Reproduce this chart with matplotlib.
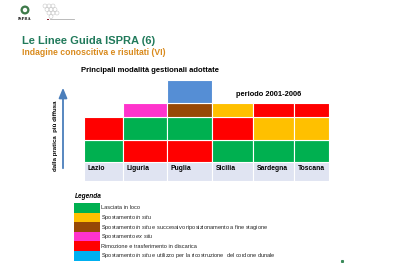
import numpy as np
import matplotlib
matplotlib.use("Agg")
import matplotlib.pyplot as plt
import matplotlib.patches as patches

plt.rcParams["font.family"] = ["Liberation Sans", "DejaVu Sans"]
plt.rcParams["mathtext.fontset"] = "custom"
plt.rcParams["mathtext.rm"] = "Liberation Sans"
plt.rcParams["mathtext.it"] = "Liberation Sans:italic"

# data
regions = ["Lazio", "Liguria", "Puglia", "Sicilia", "Sardegna", "Toscana"]
# practices per region, from the most widespread (bottom) upwards
practices = [
    ["loco", "discarica"],
    ["discarica", "loco", "ex_situ"],
    ["discarica", "loco", "riposiz", "dunale"],
    ["loco", "discarica", "in_situ"],
    ["loco", "in_situ", "discarica"],
    ["loco", "in_situ", "discarica"],
]
legend_codes = ["loco", "in_situ", "riposiz", "ex_situ", "discarica", "dunale"]
legend_labels = [
    "Lasciata in loco",
    "Spostamento $\\it{in\\ situ}$",
    "Spostamento $\\it{in\\ situ}$ e successivo riposizionamento a fine stagione",
    "Spostamento $\\it{ex\\ situ}$",
    "Rimozione e trasferimento in discarica",
    "Spostamento $\\it{in\\ situ}$ e utilizzo per la ricostruzione  del cordone dunale",
]

# styles
cell_colors = {
    "loco": "#00B050",
    "in_situ": "#FFC000",
    "riposiz": "#974806",
    "ex_situ": "#FF33CC",
    "discarica": "#FF0000",
    "dunale": "#558ED5",
}
legend_colors = dict(cell_colors, dunale="#00B0F0")
col_w = [39, 44, 45, 41, 41, 35]      # pixel widths of the columns
level_h = [22, 23, 14, 23]            # pixel heights of the stacked levels
label_h = 19
W, H = 400, 263

fig = plt.figure(figsize=(4.0, 2.63), dpi=100)
bg = fig.add_axes((0, 0, 1, 1))
bg.set_xlim(0, W)
bg.set_ylim(H, 0)
bg.axis("off")

# logos (rough)
bg.add_patch(patches.Circle((25, 10), 4.5, facecolor="#3E7A4A", edgecolor="none"))
bg.add_patch(patches.Circle((25, 10), 2.2, facecolor="white", edgecolor="none"))
bg.text(25, 18.5, "ISPRA", fontsize=2.8, fontweight="bold", family="DejaVu Serif",
        ha="center", va="center", color="#222222")
for cx, cy in [(45, 6), (49, 6), (53, 6), (47, 9.5), (51, 9.5), (55, 9.5),
               (49, 13), (53, 13), (57, 13), (51, 16.5)]:
    bg.add_patch(patches.Circle((cx, cy), 2, facecolor="none",
                                edgecolor="#C8C8C8", linewidth=0.4))
bg.add_patch(patches.Rectangle((47, 18.5), 2, 1.5, facecolor="#8B1A2B"))
bg.plot([50, 74], [19.3, 19.3], color="#B0B0B0", linewidth=0.6)

# titles
bg.text(22, 41, "Le Linee Guida ISPRA (6)", fontsize=8.0, fontweight="bold",
        color="#217A5B", va="center")
bg.text(22, 52.5, "Indagine conoscitiva e risultati (VI)", fontsize=6.2,
        fontweight="bold", color="#D98A1C", va="center")
bg.text(81, 71, "Principali modalità gestionali adottate", fontsize=5.5,
        fontweight="bold", color="black", va="center")
bg.text(236, 94.5, "periodo 2001-2006", fontsize=5.4, fontweight="bold",
        color="black", va="center")

# arrow and side label
bg.annotate("", xy=(63, 85), xytext=(63, 171),
            arrowprops=dict(arrowstyle="-|>,head_width=0.25,head_length=0.6",
                            color="#4A7EBB", linewidth=1.3))
bg.text(55, 136, "dalla pratica  più diffusa", fontsize=4.4, fontweight="bold",
        rotation=90, ha="center", va="center")

# grid chart
x0, y_bottom = 84, 181
gw = sum(col_w)
gh = label_h + sum(level_h)
ax = fig.add_axes((x0 / W, 1 - y_bottom / H, gw / W, gh / H))
ax.set_xlim(0, gw)
ax.set_ylim(0, gh)
ax.axis("off")

lefts = np.concatenate([[0], np.cumsum(col_w)[:-1]])
level_bottoms = label_h + np.concatenate([[0], np.cumsum(level_h)[:-1]])

ax.bar(lefts, label_h, width=col_w, bottom=0, align="edge",
       color="#E0E4F2", edgecolor="white", linewidth=0.8)
for i, name in enumerate(regions):
    ax.text(lefts[i] + 3.5, label_h - 6.5, name, fontsize=4.9, fontweight="bold",
            va="center", ha="left")
    stack = practices[i]
    ax.bar([lefts[i]] * len(stack), level_h[:len(stack)], width=col_w[i],
           bottom=level_bottoms[:len(stack)], align="edge",
           color=[cell_colors[c] for c in stack], edgecolor="white",
           linewidth=0.8)

# legend
bg.text(74.5, 197, "Legenda", fontsize=4.7, fontweight="bold", style="italic",
        va="center")
sw_top, sw_h = 203, 9.6
for k, code in enumerate(legend_codes):
    y = sw_top + k * sw_h
    bg.add_patch(patches.Rectangle((73.5, y), 26.5, sw_h,
                                   facecolor=legend_colors[code], edgecolor="none"))
    bg.text(101, y + sw_h / 2, legend_labels[k], fontsize=4.1, va="center",
            color="#222222")

bg.plot([342], [261], marker="s", markersize=1.2, color="#3A8A5A")

fig.savefig("out.png", dpi=100)
